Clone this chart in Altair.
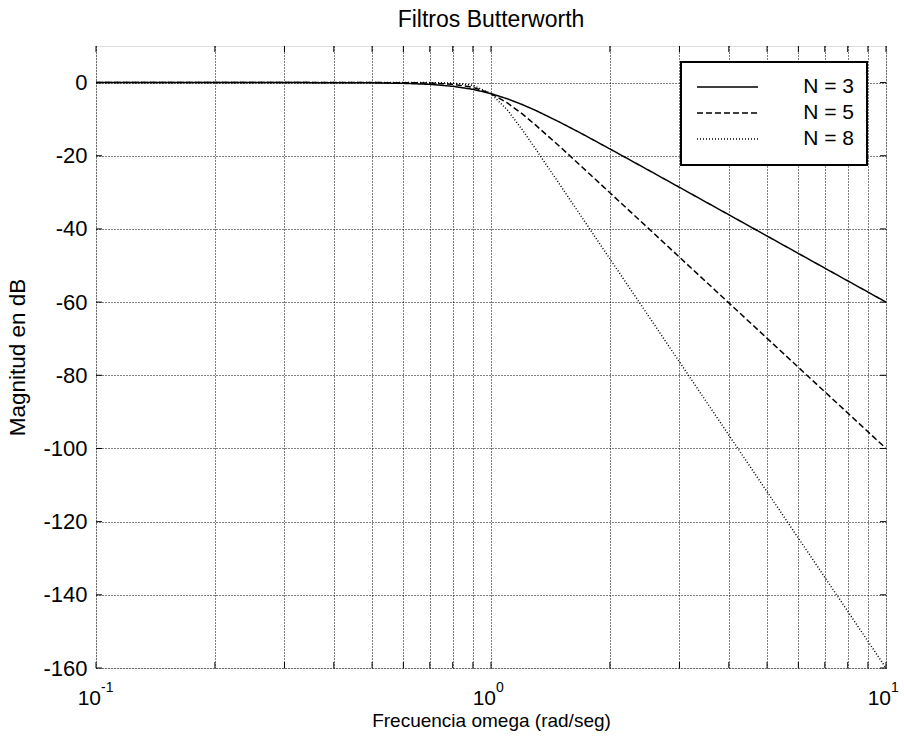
import altair as alt
import pandas as pd

# Frequencies (rad/s) and magnitude (dB) of three Butterworth low-pass filters
freq = [0.1, 0.2, 0.3, 0.4, 0.5, 0.6, 0.7, 0.8, 0.9, 1.0, 1.1, 1.2, 1.3,
        1.5, 1.7, 2.0, 2.5, 3.0, 4.0, 5.0, 6.0, 7.0, 8.0, 9.0, 10.0]
db_n3 = [0.0, 0.0, 0.0, -0.02, -0.07, -0.2, -0.48, -1.01, -1.85, -3.01, -4.43,
         -6.0, -7.65, -10.93, -14.0, -18.13, -23.89, -28.63, -36.12, -41.94,
         -46.69, -50.71, -54.19, -57.25, -60.0]
db_n5 = [0.0, 0.0, 0.0, 0.0, 0.0, -0.03, -0.12, -0.44, -1.3, -3.01, -5.56,
         -8.57, -11.7, -17.68, -23.07, -30.11, -39.79, -47.71, -60.21, -69.9,
         -77.82, -84.51, -90.31, -95.42, -100.0]
db_n8 = [0.0, 0.0, 0.0, 0.0, 0.0, 0.0, -0.01, -0.12, -0.74, -3.01, -7.48,
         -12.9, -18.3, -28.18, -36.87, -48.17, -63.67, -76.34, -96.33, -111.84,
         -124.5, -135.22, -144.49, -152.68, -160.0]
series = ["N = 3", "N = 5", "N = 8"]

x_grid = [0.1, 0.2, 0.3, 0.4, 0.5, 0.6, 0.7, 0.8, 0.9,
          1, 2, 3, 4, 5, 6, 7, 8, 9, 10]
y_grid = [-160, -140, -120, -100, -80, -60, -40, -20, 0]
decades = [0.1, 1, 10]
exponents = ["-1", "0", "1"]

FONT = "Liberation Sans"
W, H = 790, 622

curves = pd.concat([
    pd.DataFrame({"w": freq, "db": vals, "serie": name})
    for name, vals in zip(series, [db_n3, db_n5, db_n8])
])

xs = alt.Scale(type="log", domain=[0.1, 10], nice=False)
ys = alt.Scale(domain=[-160, 10], nice=False, zero=False)

x_axis = alt.Axis(values=x_grid, labels=False, ticks=False, domain=False,
                  grid=True, gridDash=[1, 2], gridColor="black",
                  gridOpacity=1, gridWidth=1,
                  title="Frecuencia omega (rad/seg)", titleFont=FONT,
                  titleFontSize=19, titleFontWeight="normal",
                  titleColor="black", titlePadding=43)
y_axis = alt.Axis(values=y_grid, ticks=False, domain=False,
                  grid=True, gridDash=[1, 2], gridColor="black",
                  gridOpacity=1, gridWidth=1,
                  labelExpr="'' + datum.value",
                  labelFont=FONT, labelFontSize=22, labelColor="black",
                  labelPadding=9,
                  title="Magnitud en dB", titleFont=FONT, titleFontSize=22.5,
                  titleFontWeight="normal", titleColor="black",
                  titlePadding=13)

lines = alt.Chart(curves).mark_line(color="black", strokeWidth=1.5).encode(
    x=alt.X("w:Q", scale=xs, axis=x_axis),
    y=alt.Y("db:Q", scale=ys, axis=y_axis),
    strokeDash=alt.StrokeDash(
        "serie:N",
        scale=alt.Scale(domain=series, range=[[1, 0], [6, 3], [1, 2]]),
        legend=None),
    detail="serie:N",
)

# short inward ticks on all four sides
ydf = pd.DataFrame({"v": y_grid})
xdf = pd.DataFrame({"v": x_grid})
ticks = [
    alt.Chart(ydf).mark_rule(color="black", strokeWidth=1).encode(
        y=alt.Y("v:Q", scale=ys), x=alt.value(x0), x2=alt.value(x1))
    for x0, x1 in [(0, 6), (W - 6, W)]
] + [
    alt.Chart(xdf).mark_rule(color="black", strokeWidth=1).encode(
        x=alt.X("v:Q", scale=xs), y=alt.value(y0), y2=alt.value(y1))
    for y0, y1 in [(0, 6), (H - 6, H)]
]

# decade labels written as 10 with a raised exponent
ddf = pd.DataFrame({"v": decades, "e": exponents, "b": ["10"] * 3})
base_lbl = alt.Chart(ddf).mark_text(
    font=FONT, fontSize=21, align="right", baseline="alphabetic", dx=5,
    color="black").encode(x=alt.X("v:Q", scale=xs), y=alt.value(H + 37),
                          text="b:N")
exp_lbl = alt.Chart(ddf).mark_text(
    font=FONT, fontSize=14, align="left", baseline="alphabetic", dx=5,
    color="black").encode(x=alt.X("v:Q", scale=xs), y=alt.value(H + 24),
                          text="e:N")

# legend box
one = pd.DataFrame({"k": [0]})
box = alt.Chart(one).mark_rect(fill="white", stroke="black",
                               strokeWidth=2).encode(
    x=alt.value(585), x2=alt.value(771), y=alt.value(16), y2=alt.value(119))
legend_layers = [box]
for i, (name, dash) in enumerate(zip(series, [[1, 0], [6, 3], [1, 2]])):
    yy = 41 + 26 * i
    legend_layers.append(
        alt.Chart(one).mark_rule(color="black", strokeWidth=1.5,
                                 strokeDash=dash).encode(
            x=alt.value(601), x2=alt.value(662), y=alt.value(yy)))
    legend_layers.append(
        alt.Chart(one).mark_text(font=FONT, fontSize=21, align="right",
                                 baseline="middle", color="black",
                                 text=name).encode(
            x=alt.value(758), y=alt.value(yy)))

chart = alt.layer(lines, *ticks, base_lbl, exp_lbl, *legend_layers).properties(
    width=W, height=H,
    title=alt.TitleParams("Filtros Butterworth", font=FONT, fontSize=23,
                          fontWeight="normal", color="black", anchor="middle",
                          offset=14),
    autosize=alt.AutoSizeParams(type="none"),
    padding={"left": 96, "top": 46, "right": 18, "bottom": 76},
).configure_view(stroke="black", strokeWidth=2).configure(background="white")

chart.save("out.html", embed_options={"renderer": "svg", "actions": False})
